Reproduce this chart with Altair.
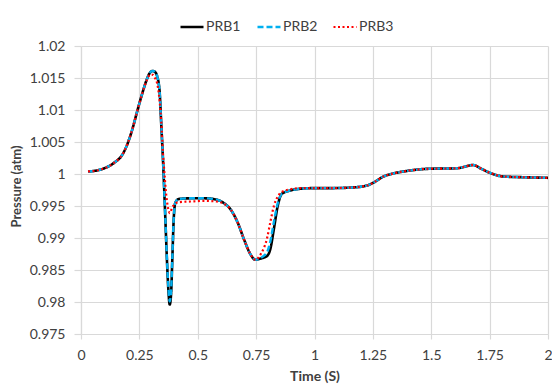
import altair as alt
import pandas as pd

# Time grid (s)
time = [0.03, 0.06, 0.10, 0.14, 0.18, 0.20, 0.22, 0.24, 0.26, 0.28, 0.29, 0.30,
        0.308, 0.318, 0.326, 0.337, 0.344, 0.351, 0.357, 0.3625, 0.368, 0.374, 0.380,
        0.386, 0.391, 0.397, 0.404, 0.418, 0.468, 0.53, 0.58, 0.61, 0.64, 0.67, 0.70,
        0.725, 0.747, 0.77, 0.797, 0.811, 0.826, 0.843, 0.86, 0.895, 0.94, 1.0, 1.08,
        1.165, 1.225, 1.255, 1.295, 1.34, 1.40, 1.48, 1.61, 1.68, 1.71, 1.75, 1.81,
        1.89, 2.0]

prb1 = [1.0004, 1.0005, 1.0009, 1.0017, 1.0032, 1.0048, 1.0070, 1.0097, 1.0123, 1.0146,
        1.0155, 1.0160, 1.0161, 1.0159, 1.0153, 1.0127, 1.0075, 1.0023, 0.9970, 0.9918,
        0.9866, 0.9820, 0.9796, 0.9814, 0.9866, 0.9929, 0.9955, 0.9961, 0.9962, 0.9962,
        0.9960, 0.9955, 0.9945, 0.9925, 0.9896, 0.9875, 0.9866, 0.9868, 0.9872, 0.9883,
        0.9914, 0.9951, 0.9969, 0.9974, 0.9977, 0.9978, 0.9978, 0.9979, 0.9982, 0.9987,
        0.9996, 1.0001, 1.0005, 1.0008, 1.0009, 1.0014, 1.0009, 1.0002, 0.9996, 0.9995,
        0.9994]

prb2 = [1.0004, 1.0005, 1.0009, 1.0017, 1.0032, 1.0048, 1.0070, 1.0097, 1.0123, 1.0146,
        1.0155, 1.0160, 1.0161, 1.0159, 1.0153, 1.0127, 1.0075, 1.0023, 0.9970, 0.9919,
        0.9868, 0.9825, 0.9801, 0.9818, 0.9868, 0.9930, 0.9955, 0.9961, 0.9962, 0.9962,
        0.9960, 0.9955, 0.9945, 0.9925, 0.9896, 0.9875, 0.9866, 0.9869, 0.9878, 0.9895,
        0.9925, 0.9955, 0.9969, 0.9974, 0.9977, 0.9978, 0.9978, 0.9979, 0.9982, 0.9987,
        0.9996, 1.0001, 1.0005, 1.0008, 1.0009, 1.0014, 1.0009, 1.0002, 0.9996, 0.9995,
        0.9994]

prb3 = [1.0004, 1.0005, 1.0009, 1.0017, 1.0032, 1.0048, 1.0070, 1.0097, 1.0123, 1.0145,
        1.0153, 1.0155, 1.0155, 1.0149, 1.0142, 1.0113, 1.0080, 1.0033, 1.0003, 0.9977,
        0.9958, 0.9945, 0.9939, 0.9943, 0.9948, 0.9951, 0.9954, 0.9956, 0.9957, 0.9958,
        0.9957, 0.9954, 0.9945, 0.9925, 0.9896, 0.9875, 0.9866, 0.9875, 0.9900, 0.9925,
        0.9950, 0.9965, 0.9972, 0.9976, 0.9978, 0.9978, 0.9978, 0.9979, 0.9982, 0.9987,
        0.9996, 1.0001, 1.0005, 1.0008, 1.0009, 1.0014, 1.0009, 1.0002, 0.9996, 0.9995,
        0.9994]

series_names = ["PRB1", "PRB2", "PRB3"]
series_colors = ["#000000", "#00b0f0", "#ff0000"]
x_ticks = [0, 0.25, 0.5, 0.75, 1, 1.25, 1.5, 1.75, 2]
y_ticks = [0.975, 0.98, 0.985, 0.99, 0.995, 1.0, 1.005, 1.01, 1.015, 1.02]

rows = []
for name, vals in zip(series_names, [prb1, prb2, prb3]):
    for t, p in zip(time, vals):
        rows.append({"t": t, "p": p, "series": name})
df = pd.DataFrame(rows)

FONT = "Lato"
GRID = "#d9d9d9"
TXT = "#404040"
LBL = "'' + round(datum.value * 1000) / 1000"

chart = alt.Chart(df).mark_line(interpolate="monotone").encode(
    x=alt.X("t:Q", title="Time (S)",
            scale=alt.Scale(domain=[0, 2], nice=False, zero=False),
            axis=alt.Axis(values=x_ticks, labelExpr="'' + datum.value", tickSize=5,
                          labelPadding=9, titlePadding=7, labelFlush=False)),
    y=alt.Y("p:Q", title="Pressure (atm)",
            scale=alt.Scale(domain=[0.975, 1.02], nice=False, zero=False),
            axis=alt.Axis(values=y_ticks, labelExpr=LBL, tickSize=7, labelPadding=9,
                          titleX=-65, titleY=140, titleBaseline="middle", titleAngle=270,
                          titleFontSize=13)),
    color=alt.Color("series:N", title=None,
                    scale=alt.Scale(domain=series_names, range=series_colors),
                    legend=alt.Legend(orient="none", direction="horizontal",
                                      legendX=98, legendY=-32)),
    strokeDash=alt.StrokeDash("series:N", title=None,
                              scale=alt.Scale(domain=series_names,
                                              range=[[1, 0], [6, 3], [2, 2.5]])),
    strokeWidth=alt.StrokeWidth("series:N",
                                scale=alt.Scale(domain=series_names, range=[2.6, 2.2, 2.2]),
                                legend=None),
    order=alt.Order("t:Q"),
).properties(
    width=467, height=288,
    background="white",
    autosize=alt.AutoSizeParams(type="none"),
    padding={"left": 81, "top": 46, "right": 4, "bottom": 51},
).configure_view(
    stroke=None
).configure_axis(
    gridColor=GRID, gridWidth=1.2, domainColor=GRID, domainWidth=1.2, tickColor=GRID,
    tickWidth=1.2, labelFont=FONT, labelFontSize=14, labelColor=TXT,
    titleFont=FONT, titleFontSize=14, titleFontWeight="bold", titleColor=TXT,
).configure_legend(
    labelFont=FONT, labelFontSize=14, labelColor=TXT, symbolType="stroke",
    symbolSize=529, symbolStrokeWidth=2.2, labelOffset=1, columnPadding=11, padding=0,
)

chart.save("out.html", embed_options={"renderer": "svg", "actions": False})
